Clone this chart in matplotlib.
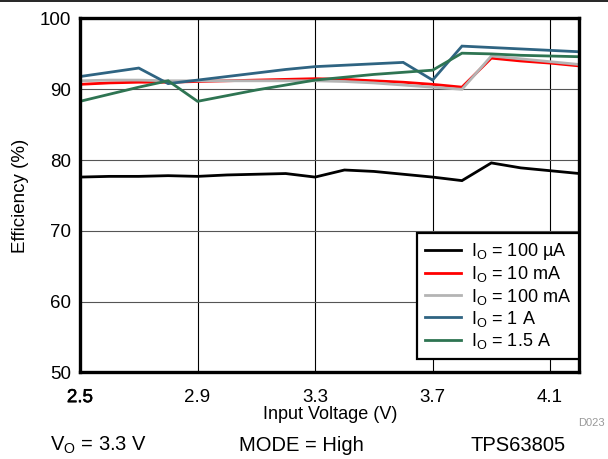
import matplotlib
matplotlib.use("Agg")
import matplotlib.pyplot as plt
from matplotlib.lines import Line2D
from matplotlib import patheffects

plt.rcParams['font.family'] = ['Liberation Sans', 'DejaVu Sans']
plt.rcParams['mathtext.fontset'] = 'custom'
plt.rcParams['mathtext.rm'] = 'Liberation Sans'
plt.rcParams['mathtext.it'] = 'Liberation Sans:italic'

# input voltage sweep (V)
vin = [2.5, 2.6, 2.7, 2.8, 2.9, 3.0, 3.1, 3.2, 3.3, 3.4, 3.5, 3.6, 3.7, 3.8, 3.9, 4.0, 4.1, 4.2]

# efficiency (%) per load current
eff_100uA = [77.6, 77.7, 77.7, 77.8, 77.7, 77.9, 78.0, 78.1, 77.6, 78.6, 78.4, 78.0, 77.6, 77.1, 79.6, 78.9, 78.5, 78.1]
eff_10mA = [90.7, 90.9, 91.0, 91.0, 91.1, 91.2, 91.3, 91.4, 91.5, 91.4, 91.2, 91.0, 90.7, 90.3, 94.4, 94.0, 93.7, 93.3]
eff_100mA = [91.2, 91.3, 91.3, 91.2, 91.2, 91.2, 91.2, 91.2, 91.2, 91.1, 90.9, 90.6, 90.3, 90.0, 94.7, 94.3, 93.9, 93.5]
eff_1A = [91.8, 92.4, 93.0, 90.8, 91.3, 91.8, 92.3, 92.8, 93.2, 93.4, 93.6, 93.8, 91.3, 96.1, 95.9, 95.7, 95.5, 95.3]
eff_1p5A = [88.3, 89.3, 90.3, 91.2, 88.3, 89.1, 89.9, 90.6, 91.3, 91.7, 92.1, 92.4, 92.7, 95.1, 95.0, 94.8, 94.7, 94.6]

labels = [r'I$_\mathregular{O}$ = 100 µA', r'I$_\mathregular{O}$ = 10 mA',
          r'I$_\mathregular{O}$ = 100 mA', r'I$_\mathregular{O}$ = 1 A',
          r'I$_\mathregular{O}$ = 1.5 A']
colors = ['black', '#ff0000', '#b4b4b4', '#2f6482', '#2e7452']

xticks = [2.5, 2.9, 3.3, 3.7, 4.1]
yticks = [50, 60, 70, 80, 90, 100]

fig = plt.figure(figsize=(6.08, 4.59), dpi=100)
ax = fig.add_axes([0.1316, 0.1885, 0.8215, 0.7712])

for y, lab, c in zip([eff_100uA, eff_10mA, eff_100mA, eff_1A, eff_1p5A], labels, colors):
    ax.plot(vin, y, color=c, lw=2.0, label=lab, solid_joinstyle='miter')

ax.set_xlim(2.5, 4.2)
ax.set_ylim(50, 100)
ax.set_xticks(xticks)
ax.set_yticks(yticks)
ax.set_xticklabels([f'{v:.1f}' for v in xticks])
ax.tick_params(axis='x', length=0, pad=12, labelsize=13.5)
ax.tick_params(axis='y', length=0, pad=6.5, labelsize=13.5)
# the first x label is drawn slightly heavier
ax.get_xticklabels()[0].set_path_effects([patheffects.withStroke(linewidth=0.4, foreground='black')])

ax.grid(axis='x', color='black', lw=0.8)
ax.grid(axis='y', color='#555555', lw=0.8)
ax.set_axisbelow(True)
for s in ax.spines.values():
    s.set_linewidth(2.4)
    s.set_zorder(5)

ax.set_xlabel('Input Voltage (V)', fontsize=13)
ax.xaxis.set_label_coords(0.5, -0.095)
ax.set_ylabel('Efficiency (%)', fontsize=13.5)
ax.yaxis.set_label_coords(-0.102, 0.5)

leg = ax.legend(loc='lower right', bbox_to_anchor=(1.0, 0.038), borderaxespad=0,
                fancybox=False, framealpha=1, edgecolor='black', fontsize=13,
                handlelength=1.95, handletextpad=0.6, labelspacing=0.12,
                borderpad=0.45)
leg.get_frame().set_linewidth(1.6)
leg.set_zorder(6)

fig.add_artist(Line2D([0, 1], [0.997, 0.997], transform=fig.transFigure, color='black', lw=1.2))

fig.text(0.0822, 0.0174, r'V$_\mathregular{O}$ = 3.3 V', fontsize=14.5, va='baseline', ha='left')
fig.text(0.3936, 0.0174, 'MODE = High', fontsize=14.5, va='baseline', ha='left')
fig.text(0.7742, 0.0174, 'TPS63805', fontsize=14.5, va='baseline', ha='left')
fig.text(0.995, 0.0725, 'D023', fontsize=8, color='#999999', va='baseline', ha='right')

fig.savefig('out.png', dpi=100)
